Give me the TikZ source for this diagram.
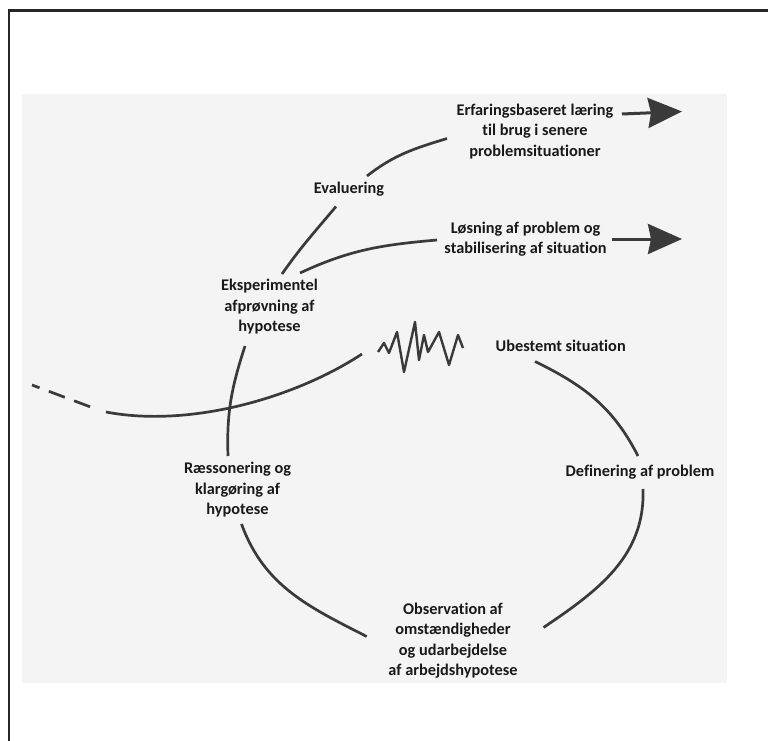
\documentclass[tikz,border=0pt]{standalone}
\usepackage{fontspec}
\setmainfont{Carlito}[Ligatures=NoCommon]
\usetikzlibrary{arrows.meta}
\definecolor{ink}{HTML}{3A3A3A}
\definecolor{paper}{HTML}{F4F4F4}

\begin{document}
\begin{tikzpicture}[x=1pt, y=1pt, every node/.style={font=\bfseries\fontsize{16.3}{20.5}\selectfont, align=center, inner sep=0pt, text=black!90}, cycle/.style={draw=ink, line width=2.7pt}, outlet/.style={color=ink, line width=3pt, -{Stealth[length=34pt,width=30pt,inset=3pt]}}]
	\useasboundingbox (0,0) rectangle (768,-741);
	\fill[paper] (22,-94.5) rectangle (727,-683);
	\draw[line width=2.4pt, black!85] (9,-741) -- (9,-10.5) -- (768,-10.5);

	\node (erf) at (535,-131.5) {Erfaringsbaseret læring\\til brug i senere\\problemsituationer};
	\node (eval) at (349,-189) {Evaluering};
	\node (los) at (525.5,-239) {Løsning af problem og\\stabilisering af situation};
	\node (eks) at (269.5,-307) {Eksperimentel\\afprøvning af\\hypotese};
	\node (ube) at (560.7,-346) {Ubestemt situation};
	\node (def) at (640,-472) {Definering af problem};
	\node (obs) at (453,-640.5) {Observation af\\omstændigheder\\og udarbejdelse\\af arbejdshypotese};
	\node (rae) at (237.5,-490) {Ræssonering og\\klargøring af\\hypotese};
	\coordinate (erfOut) at (682,-111.5);
	\coordinate (losOut) at (682,-239);
	\coordinate (past) at (32,-385);
	\coordinate (now) at (362,-354);

	\draw[cycle] ([shift={(-25.7,-15.5)}]ube.center) to[out=-26,in=117] ([shift={(-2,16)}]def.center);
	\draw[cycle] ([shift={(3,-17)}]def.center) to[out=-88,in=34] ([shift={(90.5,13)}]obs.center);
	\draw[cycle] ([shift={(-86.3,4)}]obs.center) to[out=153,in=-70] ([shift={(4,-34)}]rae.center);
	\draw[cycle] ([shift={(-9.5,34)}]rae.center) to[out=92,in=-108] ([shift={(-24.5,-39)}]eks.center);
	\draw[cycle] ([shift={(12.5,33)}]eks.center) to[out=55,in=-130] ([shift={(-13,-17.5)}]eval.center);
	\draw[cycle] ([shift={(18,13)}]eval.center) to[out=38,in=-163] ([shift={(-88,-7)}]erf.center);
	\draw[cycle] ([shift={(30.5,34)}]eks.center) to[out=25,in=185] ([shift={(-88.5,-1)}]los.center);
	\draw[outlet] ([shift={(87,17.5)}]erf.center) -- (erfOut);
	\draw[outlet] ([shift={(86.5,0)}]los.center) -- (losOut);

	\draw[cycle, dash pattern=on 17pt off 10pt, dash phase=9pt] (past) -- ++(64,-24);
	\draw[cycle] ([shift={(74,-27)}]past) .. controls (190,-428) and (295,-398) .. (now);
	\draw[cycle, line width=2.4pt, line join=round] plot coordinates {(378,-352) (384,-343) (389,-353) (397,-332) (404,-372) (415,-322) (419,-360) (424,-335) (428,-352) (439,-332) (449,-365) (458,-335) (463,-348)};
\end{tikzpicture}
\end{document}
